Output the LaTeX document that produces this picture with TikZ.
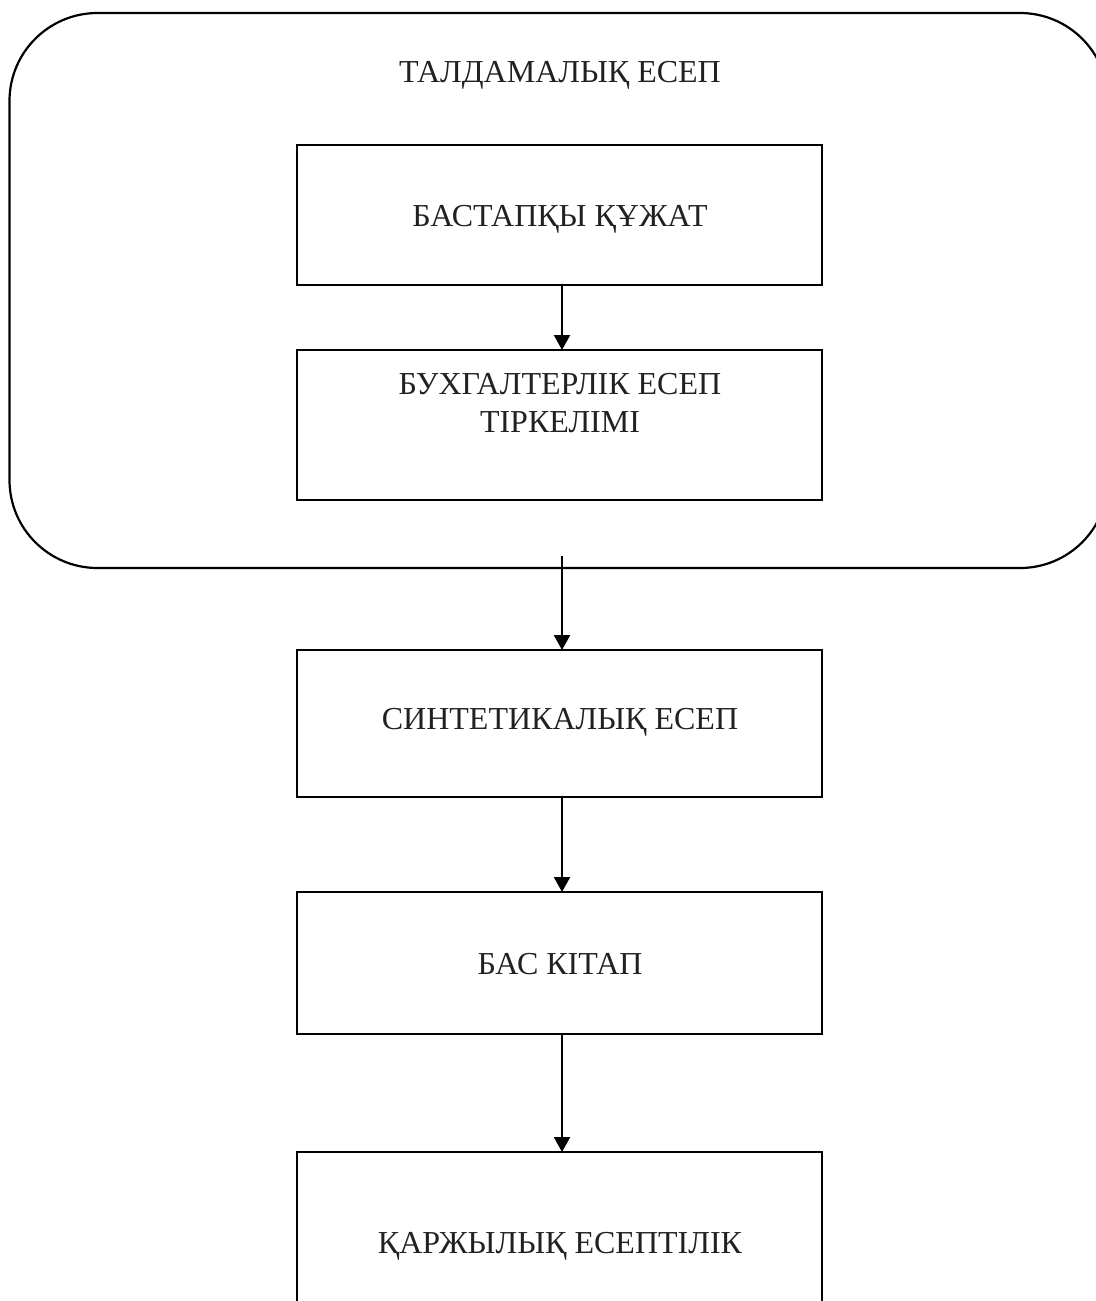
\documentclass[tikz,border=0pt]{standalone}
\usepackage{fontspec}
\setmainfont{Liberation Serif}
\usetikzlibrary{arrows.meta}
\begin{document}
\begin{tikzpicture}[x=1pt,y=-1pt,
  box/.style={draw=black, line width=2.2pt, rectangle, inner sep=0pt, outer sep=0pt, minimum width=525pt},
  lbl/.style={font=\fontsize{32}{38}\selectfont, text=black!87, align=center, inner sep=0pt},
  arr/.style={line width=2.2pt, -{Triangle[width=16pt,length=15pt]}}]
\useasboundingbox (0,0) rectangle (1095,1301);
\node[draw=black, line width=2.2pt, rounded corners=88pt, inner sep=0pt, minimum width=1098.5pt, minimum height=555pt] (grp) at (558.75,290.5) {};
\node[lbl] (t0) at (560,75) {ТАЛДАМАЛЫҚ ЕСЕП};
\node[box, minimum height=140pt] (b1) at (559.5,215) {};
\node[lbl] (t1) at (560,219) {БАСТАПҚЫ ҚҰЖАТ};
\node[box, minimum height=150pt] (b2) at (559.5,425) {};
\node[lbl] (t2) at (560,403) {БУХГАЛТЕРЛІК ЕСЕП\\ТІРКЕЛІМІ};
\node[box, minimum height=147pt] (b3) at (559.5,723.5) {};
\node[lbl] (t3) at (560,722) {СИНТЕТИКАЛЫҚ ЕСЕП};
\node[box, minimum height=142pt] (b4) at (559.5,963) {};
\node[lbl] (t4) at (560,964) {БАС КІТАП};
\node[box, minimum height=168pt] (b5) at (559.5,1236) {};
\node[lbl] (t5) at (560,1246) {ҚАРЖЫЛЫҚ ЕСЕПТІЛІК};
\coordinate (s2) at (562,556);
\draw[arr] (b1.south -| 562,0) -- (b2.north -| 562,0);
\draw[arr] (s2) -- (b3.north -| s2);
\draw[arr] (b3.south -| 562,0) -- (b4.north -| 562,0);
\draw[arr] (b4.south -| 562,0) -- (b5.north -| 562,0);
\end{tikzpicture}
\end{document}
